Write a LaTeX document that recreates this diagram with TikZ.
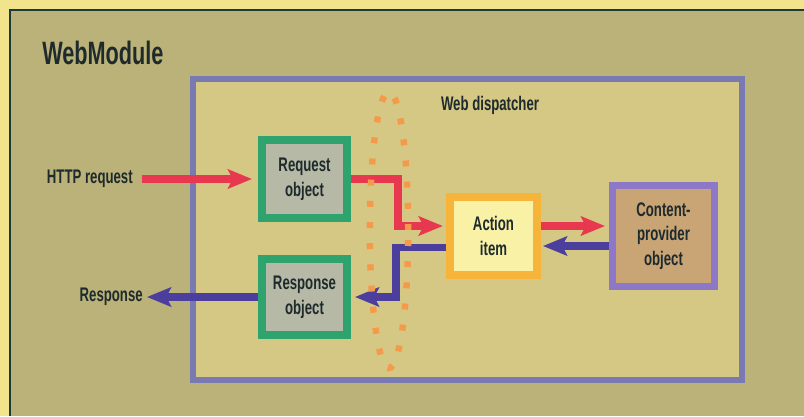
\documentclass[tikz,border=0pt]{standalone}
\usepackage{fontspec}
\setmainfont{Liberation Sans}[FakeStretch=0.67]
\usetikzlibrary{arrows.meta}
\definecolor{stripyellow}{HTML}{F2E48C}
\definecolor{panelkhaki}{HTML}{BAB279}
\definecolor{panelline}{HTML}{1F3A3A}
\definecolor{dispfill}{HTML}{D4C884}
\definecolor{dispblue}{HTML}{7A7AB2}
\definecolor{objgreen}{HTML}{2FA36E}
\definecolor{objfill}{HTML}{B6B9A5}
\definecolor{actorange}{HTML}{F7B43A}
\definecolor{actfill}{HTML}{F9F1A6}
\definecolor{contpurple}{HTML}{8C78C6}
\definecolor{contfill}{HTML}{C9A576}
\definecolor{flowred}{HTML}{E8384F}
\definecolor{flowblue}{HTML}{4B3E9C}
\definecolor{dotorange}{HTML}{F59A4A}
\definecolor{textdark}{HTML}{1E2A2C}
\begin{document}
\begin{tikzpicture}[x=0.025cm, y=-0.025cm,
  every node/.style={text=textdark, font=\bfseries\fontsize{14}{17.5}\selectfont, align=center},
  objbox/.style={draw=objgreen, fill=objfill, line width=0.2cm, minimum width=2.125cm},
  flowtip/.style={-{Stealth[length=0.6cm, width=0.48cm, inset=0.12cm]}},
  reqflow/.style={draw=flowred, line width=0.18cm, flowtip},
  respflow/.style={draw=flowblue, line width=0.18cm, flowtip}]
\useasboundingbox (0,0) rectangle (804,416);
% background and module panel
\fill[stripyellow] (0,0) rectangle (804,416);
\fill[panelkhaki] (10,10) rectangle (804,416);
\draw[panelline, line width=0.05cm] (804,10) -- (10,10) -- (10,416);
\node[anchor=base west, inner sep=0, font=\bfseries\fontsize{23}{27}\selectfont] (webmod) at (42,64) {WebModule};
% dispatcher
\node[draw=dispblue, fill=dispfill, line width=0.15cm, minimum width=13.725cm, minimum height=7.525cm] (dispatcher) at (467.5,229.5) {};
\node (dispname) at (490,105) {Web dispatcher};
% objects
\node[objbox, minimum height=1.95cm] (req) at (304.5,179) {Request\\object};
\node[objbox, minimum height=1.9cm] (resp) at (304.5,297) {Response\\object};
\node[draw=actorange, fill=actfill, line width=0.2cm, minimum width=2.175cm, minimum height=1.925cm] (act) at (493.5,236) {Action\\item};
\node[draw=contpurple, fill=contfill, line width=0.175cm, minimum width=2.55cm, minimum height=2.5cm] (cont) at (663.5,236) {Content-\\provider\\object};
\node[anchor=east, inner sep=0] (http) at (133,179) {HTTP request};
\node[anchor=east, inner sep=0] (resptext) at (143,297) {Response};
% flows
\draw[reqflow, shorten <=0.22cm, shorten >=0.15cm] (http.east) -- (req.west);
\draw[reqflow, shorten >=0.08cm] (req.east) -- ++(47,0) |- ([yshift=0.25cm]act.west);
\draw[reqflow, shorten >=0.1cm] ([yshift=0.25cm]act.east) -- ([yshift=0.25cm]cont.west);
\draw[respflow, shorten >=0.05cm] ([yshift=-0.25cm]cont.west) -- ([yshift=-0.25cm]act.east);
\draw[respflow, shorten >=0.1cm] ([yshift=-0.28cm]act.west) -- ++(-50,0) |- (resp.east);
\draw[respflow, shorten >=0.1cm] (resp.west) -- (resptext.east);
% dotted boundary
\draw[dotorange, line width=0.16cm, dash pattern=on 0.15cm off 0.38cm] (389,230) ellipse [x radius=0.48cm, y radius=3.45cm];
\end{tikzpicture}
\end{document}
